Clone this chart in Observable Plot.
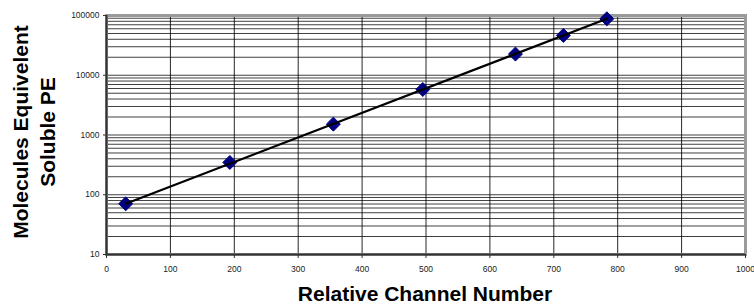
<!DOCTYPE html>
<html><head><meta charset="utf-8">
<script src="https://cdn.jsdelivr.net/npm/d3@7"></script>
<script src="https://cdn.jsdelivr.net/npm/@observablehq/plot@0.6"></script>
<style>body{margin:0;background:#fff} svg{display:block}</style>
</head><body><div id="chart"></div>
<script>
const channel = [30, 193, 355, 495, 640, 715, 783];
const mesf = [70.6, 347, 1520, 5780, 22600, 46400, 88100];
const trendChannel = [30, 783];
const trendMesf = [70.6, 88100];
const xTicks = [0, 100, 200, 300, 400, 500, 600, 700, 800, 900, 1000];
const yTicks = [10, 100, 1000, 10000, 100000];
const xTitle = "Relative Channel Number";
const yTitleLines = ["Molecules Equivelent", "Soluble PE"];

const points = channel.map((c, i) => ({channel: c, mesf: mesf[i]}));
const trend = trendChannel.map((c, i) => ({channel: c, mesf: trendMesf[i]}));
const yGrid = yTicks.slice(0, -1).flatMap(t => d3.range(1, 10).map(k => t * k)).concat([yTicks[yTicks.length - 1]]);

const chart = Plot.plot({
  width: 754, height: 305,
  marginLeft: 106, marginRight: 9, marginTop: 15, marginBottom: 51,
  style: {fontFamily: "'Liberation Sans', Arial, sans-serif", fontSize: "8.5px", color: "#222", background: "#fff"},
  x: {domain: [0, 1000]},
  y: {type: "log", domain: [10, 100000]},
  marks: [
    Plot.ruleY(yGrid, {stroke: "#000", strokeOpacity: 0.75, strokeWidth: 1}),
    Plot.ruleX(xTicks.slice(1, -1), {stroke: "#000", strokeOpacity: 0.85, strokeWidth: 1}),
    Plot.frame({stroke: "#9a9a9a", strokeWidth: 3}),
    Plot.ruleX([0], {stroke: "#333", strokeWidth: 2}),
    Plot.ruleY([10], {stroke: "#333", strokeWidth: 2}),
    Plot.axisX(xTicks, {tickSize: 4, tickPadding: 7, tickFormat: d => String(d), label: null, stroke: "#333"}),
    Plot.axisY(yTicks, {tickSize: 3, tickPadding: 4, tickFormat: d => String(d), label: null, stroke: "#333"}),
    Plot.dot(points, {x: "channel", y: "mesf", symbol: "diamond2", r: 6.3, fill: "#000080", stroke: "#000080", strokeWidth: 1}),
    Plot.line(trend, {x: "channel", y: "mesf", stroke: "#000", strokeWidth: 2.2})
  ]
});
document.getElementById("chart").appendChild(chart);

const svg = d3.select(chart);
const titleFont = "'Liberation Sans', Arial, sans-serif";
[20, 47.5].forEach((x, i) => {
  svg.append("text")
    .attr("transform", `translate(${x},132) rotate(-90)`)
    .attr("text-anchor", "middle")
    .attr("dominant-baseline", "central")
    .attr("font-family", titleFont)
    .attr("font-weight", "bold")
    .attr("font-size", 21)
    .attr("fill", "#000")
    .text(yTitleLines[i]);
});
svg.append("text")
  .attr("x", 425).attr("y", 301)
  .attr("text-anchor", "middle")
  .attr("font-family", titleFont)
  .attr("font-weight", "bold")
  .attr("font-size", 21)
  .attr("fill", "#000")
  .text(xTitle);
</script>
</body></html>
